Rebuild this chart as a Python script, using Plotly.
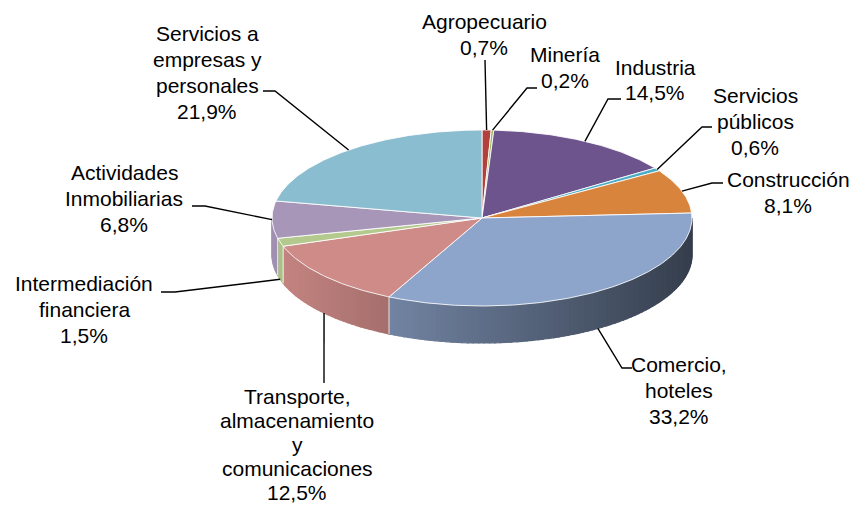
import numpy as np
import plotly.graph_objects as go

# ---------------- data ----------------
sectors = ["Agropecuario", "Minería", "Industria", "Servicios públicos", "Construcción",
           "Comercio, hoteles", "Transporte, almacenamiento y comunicaciones",
           "Intermediación financiera", "Actividades Inmobiliarias",
           "Servicios a empresas y personales"]
shares = [0.7, 0.2, 14.5, 0.6, 8.1, 33.2, 12.5, 1.5, 6.8, 21.9]
label_lines = [["Agropecuario"], ["Minería"], ["Industria"], ["Servicios", "públicos"],
               ["Construcción"], ["Comercio,", "hoteles"],
               ["Transporte,", "almacenamiento", "y", "comunicaciones"],
               ["Intermediación", "financiera"], ["Actividades", "Inmobiliarias"],
               ["Servicios a", "empresas y", "personales"]]
colors = ["#B2403C", "#9BBB59", "#6E548D", "#4BACC6", "#D9843D",
          "#8EA5CB", "#CE8B88", "#B4C98E", "#A796B8", "#8ABDCF"]

# ---------------- layout / style ----------------
W, H = 856, 507
CX, CY, RX, RY, DEPTH = 482, 218, 210, 88, 37
FONT = dict(family="Liberation Sans, Arial, sans-serif", size=21, color="#000000")
# label text: (center x, first line y, line spacing)
label_pos = [(484, 21, 26), (565, 54, 26), (655, 67, 25.5), (755, 95, 26),
             (788, 179, 26), (679, 364, 26), (297, 396, 24), (84, 283, 26),
             (124, 172, 26), (207, 33, 26)]
# leader lines: elbow and end points (near label)
leader_pts = [[(485, 60)], [(527, 88), (537, 88)], [(608, 99), (621, 99)],
              [(702, 127), (712, 127)], [(712, 183), (723, 183)],
              [(622, 368), (632, 368)], [(324, 383)], [(175, 292), (161, 292)],
              [(205, 206), (192, 206)], [(275, 91), (263, 91)]]


def pt(theta, dy=0.0):
    t = np.radians(theta)
    return CX + RX * np.sin(t), CY - RY * np.cos(t) + dy


def shade(hexcol, f):
    r, g, b = (int(hexcol[i:i + 2], 16) for i in (1, 3, 5))
    return "rgb(%d,%d,%d)" % (r * f, g * f, b * f)


vals = np.array(shares, dtype=float)
cum = np.concatenate([[0], np.cumsum(vals)]) / vals.sum() * 360.0

fig = go.Figure()

# ---- side walls (front half only) ----
for i in range(len(vals)):
    a0, a1 = max(cum[i], 90.0), min(cum[i + 1], 270.0)
    if a1 <= a0:
        continue
    n = max(1, int(np.ceil((a1 - a0) / 1.5)))
    edges = np.linspace(a0, a1, n + 1)
    for k in range(n):
        th = np.linspace(edges[k], edges[k + 1], 4)
        xs, ys = pt(th)
        xb, yb = pt(th[::-1], DEPTH)
        px = np.concatenate([xs, xb, xs[:1]])
        py = np.concatenate([ys, yb, ys[:1]])
        xm = pt((edges[k] + edges[k + 1]) / 2)[0]
        f = np.clip(0.95 - 0.0014 * (xm - 283), 0.38, 1.0)
        c = shade(colors[i], f)
        fig.add_trace(go.Scatter(x=px, y=py, mode="lines", fill="toself",
                                 fillcolor=c, line=dict(color=c, width=1.2),
                                 hoverinfo="skip", showlegend=False))
# slice boundaries on the wall
for a in cum[1:-1]:
    if 90 < a < 270:
        x0, y0 = pt(a)
        x1, y1 = pt(a, DEPTH)
        fig.add_trace(go.Scatter(x=[x0, x1], y=[y0, y1], mode="lines",
                                 line=dict(color="rgba(255,255,255,0.8)", width=1),
                                 hoverinfo="skip", showlegend=False))

# ---- top surfaces ----
for i in range(len(vals)):
    th = np.linspace(cum[i], cum[i + 1], max(3, int((cum[i + 1] - cum[i]) * 2)))
    xs, ys = pt(th)
    px = np.concatenate([[CX], xs, [CX]])
    py = np.concatenate([[CY], ys, [CY]])
    fig.add_trace(go.Scatter(x=px, y=py, mode="lines", fill="toself",
                             fillcolor=colors[i],
                             line=dict(color="rgba(255,255,255,0.85)", width=1),
                             name=sectors[i], hoverinfo="name", showlegend=False))

# ---- leader lines and labels ----
for i in range(len(vals)):
    mid = (cum[i] + cum[i + 1]) / 2
    dy = DEPTH if 95 < mid < 262 else 0
    ax, ay = pt(mid, dy)
    xs = [ax] + [p[0] for p in leader_pts[i]]
    ys = [ay] + [p[1] for p in leader_pts[i]]
    fig.add_trace(go.Scatter(x=xs, y=ys, mode="lines",
                             line=dict(color="#000000", width=1.4),
                             hoverinfo="skip", showlegend=False))
    lines = label_lines[i] + [("%.1f" % shares[i]).replace(".", ",") + "%"]
    lx, ly, sp = label_pos[i]
    for j, t in enumerate(lines):
        fig.add_annotation(x=lx, y=ly + j * sp, text=t, showarrow=False,
                           xanchor="center", yanchor="middle", font=FONT)

fig.update_layout(
    width=W, height=H, autosize=False,
    margin=dict(l=0, r=0, t=0, b=0),
    paper_bgcolor="white", plot_bgcolor="white",
    xaxis=dict(range=[0, W], visible=False, fixedrange=True),
    yaxis=dict(range=[H, 0], visible=False, fixedrange=True),
    showlegend=False,
)
fig.write_html("out.html", config={"displayModeBar": False},
               post_script="document.body.style.margin='0';"
                           "document.documentElement.style.overflow='hidden';")
